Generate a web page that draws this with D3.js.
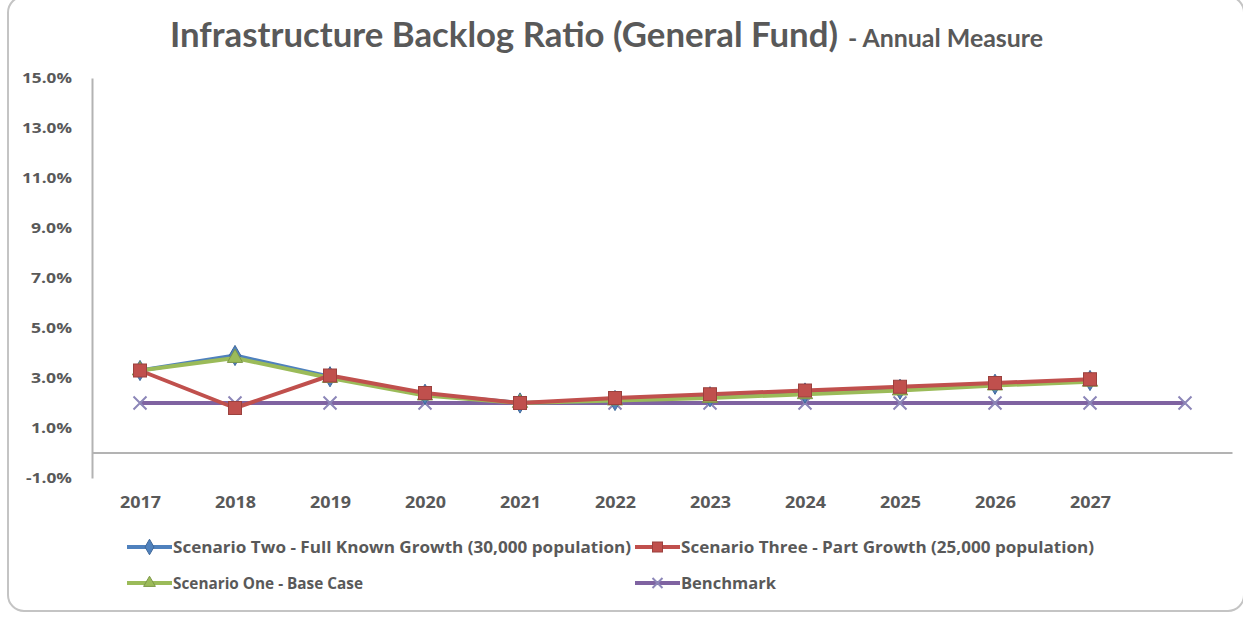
<!DOCTYPE html>
<html>
<head>
<meta charset="utf-8">
<script src="https://cdn.jsdelivr.net/npm/d3@7"></script>
<style>
  html, body { margin: 0; padding: 0; background: #fff; }
  svg { display: block; }
  text { font-family: Lato, "Open Sans", sans-serif; font-weight: 700; fill: #595959; }
</style>
</head>
<body>
<svg id="chart" width="1243" height="619"></svg>
<script>
// Category labels (the 12th slot is blank; only the benchmark reaches it)
const yearLabels = ["2017", "2018", "2019", "2020", "2021", "2022", "2023", "2024", "2025", "2026", "2027", ""];

// Backlog ratio, percent
const scenarioTwo   = [3.3, 3.9, 3.05, 2.35, 2.0, 2.1, 2.25, 2.4, 2.55, 2.75, 2.9];
const scenarioThree = [3.3, 1.8, 3.1, 2.4, 2.0, 2.2, 2.35, 2.5, 2.65, 2.8, 2.95];
const scenarioOne   = [3.3, 3.8, 3.0, 2.3, 2.0, 2.1, 2.2, 2.35, 2.5, 2.7, 2.85];
const benchmark     = [2.0, 2.0, 2.0, 2.0, 2.0, 2.0, 2.0, 2.0, 2.0, 2.0, 2.0, 2.0];

const yTicks = [-1, 1, 3, 5, 7, 9, 11, 13, 15];

const seriesNames = [
  "Scenario Two - Full Known Growth (30,000 population)",
  "Scenario Three - Part Growth (25,000 population)",
  "Scenario One - Base Case",
  "Benchmark"
];

const series = [
  { name: seriesNames[3], values: benchmark,     color: "#7f63a1", marker: "x" },
  { name: seriesNames[0], values: scenarioTwo,   color: "#4f81bd", marker: "diamond" },
  { name: seriesNames[2], values: scenarioOne,   color: "#9bbb59", marker: "triangle" },
  { name: seriesNames[1], values: scenarioThree, color: "#c0504d", marker: "square" }
];

const svg = d3.select("#chart");

// Outer rounded frame
svg.append("rect")
  .attr("x", 8).attr("y", -3.5)
  .attr("width", 1236).attr("height", 614.5)
  .attr("rx", 16).attr("ry", 16)
  .attr("fill", "#fff")
  .attr("stroke", "#c4c4c4").attr("stroke-width", 2);

// Title
const title = svg.append("text").attr("x", 170).attr("y", 47);
title.append("tspan")
  .attr("font-size", 35)
  .attr("textLength", 668).attr("lengthAdjust", "spacingAndGlyphs")
  .text("Infrastructure Backlog Ratio (General Fund)");
title.append("tspan")
  .attr("x", 848)
  .attr("font-size", 25)
  .attr("textLength", 195).attr("lengthAdjust", "spacingAndGlyphs")
  .text("- Annual Measure");

// Scales
const x = d3.scalePoint()
  .domain(d3.range(yearLabels.length))
  .range([92.5, 1232.5])
  .padding(0.5);
const y = d3.scaleLinear().domain([-1, 15]).range([478, 78]);

// Y axis
const yAxis = svg.append("g")
  .attr("transform", "translate(92,0)")
  .call(d3.axisLeft(y).tickValues(yTicks).tickSize(0).tickPadding(20)
    .tickFormat(d => d.toFixed(1) + "%"));
yAxis.select(".domain").attr("stroke", "#b3b3b3").attr("stroke-width", 2);
yAxis.selectAll("text")
  .attr("font-size", 15)
  .attr("fill", "#595959")
  .attr("textLength", d => (d >= 10 ? 50 : d < 0 ? 46 : 41))
  .attr("lengthAdjust", "spacingAndGlyphs")
  .style("font-family", "'Open Sans', sans-serif")
  .style("font-weight", 700);

// Zero line
svg.append("line")
  .attr("x1", 92).attr("x2", 1232.5)
  .attr("y1", y(0)).attr("y2", y(0))
  .attr("stroke", "#b3b3b3").attr("stroke-width", 2);

// X category labels along the bottom
const xAxis = svg.append("g")
  .attr("transform", "translate(0,497)")
  .call(d3.axisBottom(x).tickSize(0).tickPadding(0).tickFormat(i => yearLabels[i]));
xAxis.select(".domain").remove();
xAxis.selectAll("text")
  .attr("font-size", 16)
  .attr("fill", "#595959")
  .attr("textLength", d => (yearLabels[d] ? 41 : null))
  .attr("lengthAdjust", "spacingAndGlyphs")
  .style("font-family", "'Open Sans', sans-serif")
  .style("font-weight", 700);

// Marker drawing
function drawMarker(g, type, color, size) {
  const dark = d3.color(color).darker(0.6);
  if (type === "square") {
    g.append("rect").attr("x", -size / 2).attr("y", -size / 2)
      .attr("width", size).attr("height", size)
      .attr("fill", color).attr("stroke", dark).attr("stroke-width", 1);
  } else if (type === "diamond") {
    g.append("path").attr("d", d3.symbol(d3.symbolDiamond, size * size * 0.7)())
      .attr("fill", color).attr("stroke", dark).attr("stroke-width", 1);
  } else if (type === "triangle") {
    g.append("path").attr("d", d3.symbol(d3.symbolTriangle, size * size * 0.6)())
      .attr("fill", color).attr("stroke", dark).attr("stroke-width", 1);
  } else if (type === "x") {
    const h = size / 2;
    g.append("path").attr("d", `M${-h},${-h}L${h},${h}M${-h},${h}L${h},${-h}`)
      .attr("stroke", "#8c86b8").attr("stroke-width", 2).attr("fill", "none");
  }
}

const line = d3.line().x((d, i) => x(i)).y(d => y(d));

series.forEach(s => {
  const g = svg.append("g");
  g.append("path")
    .datum(s.values)
    .attr("d", line)
    .attr("fill", "none")
    .attr("stroke", s.color)
    .attr("stroke-width", 4)
    .attr("stroke-linejoin", "round");
  s.values.forEach((v, i) => {
    const m = g.append("g").attr("transform", `translate(${x(i)},${y(v)})`);
    drawMarker(m, s.marker, s.color, 13);
  });
});

// Legend
const legendItems = [
  { s: series[1], x: 127, y: 547, len: 458 },
  { s: series[3], x: 635, y: 547, len: 413 },
  { s: series[2], x: 127, y: 583, len: 190 },
  { s: series[0], x: 635, y: 583, len: 95 }
];
legendItems.forEach(it => {
  const g = svg.append("g").attr("transform", `translate(${it.x},${it.y})`);
  g.append("line").attr("x1", 0).attr("x2", 45).attr("y1", 0).attr("y2", 0)
    .attr("stroke", it.s.color).attr("stroke-width", 4);
  const m = g.append("g").attr("transform", "translate(22.5,0)");
  drawMarker(m, it.s.marker, it.s.color, 10);
  g.append("text")
    .attr("x", 46).attr("y", 0).attr("dy", "0.35em")
    .attr("font-size", 16.5)
    .attr("textLength", it.len).attr("lengthAdjust", "spacingAndGlyphs")
    .style("font-family", "'Open Sans', sans-serif")
    .text(it.s.name);
});
</script>
</body>
</html>
